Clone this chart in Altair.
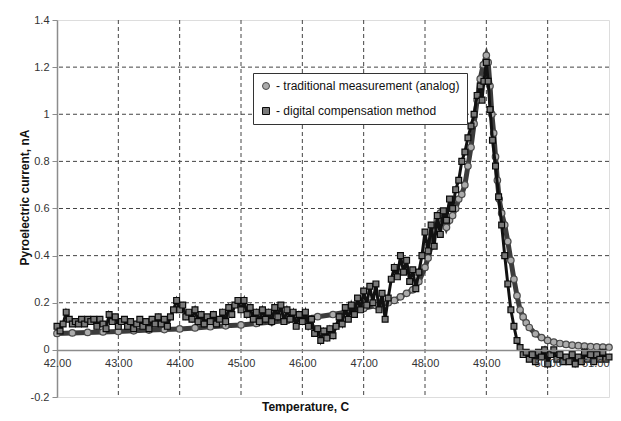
import altair as alt
import pandas as pd

# ---- data ----
series_names = ["- traditional measurement (analog)", "- digital compensation method"]

analog_t = [42.0, 42.25, 42.5, 42.75, 43.0, 43.25, 43.5, 43.75, 44.0, 44.25, 44.5, 44.75,
            45.0, 45.25, 45.5, 45.75, 46.0, 46.25, 46.5, 46.75, 47.0, 47.2, 47.4, 47.5,
            47.6, 47.7, 47.8, 47.9, 48.0, 48.05, 48.1, 48.15, 48.2, 48.25, 48.3, 48.35,
            48.4, 48.45, 48.5, 48.55, 48.6, 48.65, 48.7, 48.75, 48.8, 48.85, 48.9, 48.95,
            49.0, 49.03, 49.06, 49.09, 49.12, 49.15, 49.18, 49.21, 49.25, 49.3, 49.35, 49.4,
            49.45, 49.5, 49.55, 49.6, 49.65, 49.7, 49.8, 49.9, 50.0, 50.1, 50.2, 50.3,
            50.4, 50.5, 50.6, 50.7, 50.8, 50.9, 51.0]
analog_i = [0.070, 0.072, 0.074, 0.076, 0.078, 0.081, 0.084, 0.086, 0.089, 0.093, 0.098, 0.102,
            0.106, 0.112, 0.118, 0.125, 0.133, 0.141, 0.150, 0.162, 0.176, 0.188, 0.200, 0.210,
            0.225, 0.240, 0.255, 0.290, 0.350, 0.39, 0.44, 0.50, 0.55, 0.58, 0.56, 0.52,
            0.55, 0.57, 0.60, 0.64, 0.66, 0.70, 0.78, 0.86, 0.96, 1.06, 1.15, 1.21,
            1.25, 1.22, 1.12, 1.00, 0.92, 0.82, 0.72, 0.64, 0.58, 0.53, 0.46, 0.38,
            0.30, 0.23, 0.17, 0.14, 0.115, 0.095, 0.068, 0.052, 0.040, 0.033, 0.027, 0.023,
            0.020, 0.018, 0.016, 0.014, 0.013, 0.012, 0.011]

digital_t = [42.00, 42.05, 42.10, 42.15, 42.20, 42.25, 42.30, 42.35, 42.40, 42.45, 42.50, 42.55,
             42.60, 42.65, 42.70, 42.75, 42.80, 42.85, 42.90, 42.95, 43.00, 43.05, 43.10, 43.15,
             43.20, 43.25, 43.30, 43.35, 43.40, 43.45, 43.50, 43.55, 43.60, 43.65, 43.70, 43.75,
             43.80, 43.85, 43.90, 43.95, 44.00, 44.05, 44.10, 44.15, 44.20, 44.25, 44.30, 44.35,
             44.40, 44.45, 44.50, 44.55, 44.60, 44.65, 44.70, 44.75, 44.80, 44.85, 44.90, 44.95,
             45.00, 45.05, 45.10, 45.15, 45.20, 45.25, 45.30, 45.35, 45.40, 45.45, 45.50, 45.55,
             45.60, 45.65, 45.70, 45.75, 45.80, 45.85, 45.90, 45.95, 46.00, 46.05, 46.10, 46.15,
             46.20, 46.25, 46.30, 46.35, 46.40, 46.45, 46.50, 46.55, 46.60, 46.65, 46.70, 46.75,
             46.80, 46.85, 46.90, 46.95, 47.00, 47.05, 47.10, 47.15, 47.20, 47.25, 47.30, 47.35,
             47.40, 47.45, 47.50, 47.55, 47.60, 47.65, 47.70, 47.75, 47.80, 47.85, 47.90, 47.95,
             48.00, 48.05, 48.10, 48.15, 48.20, 48.25, 48.30, 48.35, 48.40, 48.45, 48.50, 48.55,
             48.60, 48.65, 48.70, 48.75, 48.80, 48.85, 48.90, 48.93, 48.96, 49.00, 49.03, 49.06,
             49.10, 49.15, 49.20, 49.25, 49.30, 49.35, 49.40, 49.45, 49.50, 49.55, 49.60, 49.65,
             49.70, 49.75, 49.80, 49.85, 49.90, 49.95, 50.00, 50.05, 50.10, 50.15, 50.20, 50.25,
             50.30, 50.35, 50.40, 50.45, 50.50, 50.55, 50.60, 50.65, 50.70, 50.75, 50.80, 50.85,
             50.90, 50.95, 51.00]
digital_i = [0.10, 0.08, 0.11, 0.16, 0.13, 0.11, 0.12, 0.11, 0.13, 0.11, 0.13, 0.12,
             0.13, 0.10, 0.13, 0.11, 0.09, 0.15, 0.12, 0.14, 0.10, 0.12, 0.13, 0.10,
             0.12, 0.09, 0.11, 0.13, 0.10, 0.12, 0.09, 0.13, 0.11, 0.14, 0.11, 0.13,
             0.10, 0.14, 0.17, 0.21, 0.17, 0.19, 0.14, 0.16, 0.13, 0.17, 0.12, 0.15,
             0.11, 0.14, 0.12, 0.15, 0.11, 0.13, 0.16, 0.12, 0.18, 0.15, 0.19, 0.21,
             0.17, 0.21, 0.15, 0.18, 0.13, 0.16, 0.12, 0.17, 0.13, 0.16, 0.12, 0.18,
             0.14, 0.19, 0.12, 0.17, 0.13, 0.16, 0.10, 0.15, 0.12, 0.16, 0.10, 0.13,
             0.07, 0.09, 0.04, 0.08, 0.05, 0.09, 0.06, 0.10, 0.14, 0.11, 0.18, 0.13,
             0.19, 0.15, 0.22, 0.17, 0.25, 0.19, 0.27, 0.20, 0.28, 0.17, 0.24, 0.13,
             0.22, 0.30, 0.35, 0.31, 0.40, 0.33, 0.38, 0.29, 0.34, 0.26, 0.33, 0.40,
             0.50, 0.42, 0.53, 0.44, 0.57, 0.49, 0.59, 0.55, 0.64, 0.60, 0.68, 0.72,
             0.80, 0.84, 0.90, 0.95, 1.00, 1.08, 1.12, 1.06, 1.14, 1.22, 1.14, 1.02,
             0.89, 0.78, 0.65, 0.53, 0.40, 0.28, 0.17, 0.10, 0.04, 0.01, -0.02, -0.01,
             -0.04, -0.02, -0.05, -0.01, -0.03, 0.00, -0.06, -0.02, 0.00, -0.04, -0.02, -0.05,
             -0.03, -0.05, -0.02, -0.06, -0.03, -0.05, -0.01, -0.04, -0.02, -0.05, -0.02, -0.04,
             -0.01, -0.04, -0.03]

x_ticks = [42, 43, 44, 45, 46, 47, 48, 49, 50, 51]
y_ticks = [-0.2, 0, 0.2, 0.4, 0.6, 0.8, 1, 1.2, 1.4]
x_grid = [43, 44, 45, 46, 47, 48, 49, 50]
y_grid = [0.2, 0.4, 0.6, 0.8, 1, 1.2]

analog_df = pd.DataFrame({"t": analog_t, "i": analog_i, "series": series_names[0]})
digital_df = pd.DataFrame({"t": digital_t, "i": digital_i, "series": series_names[1]})

FONT = "Liberation Sans"
W, H = 552, 377

xscale = alt.Scale(domain=[42, 51], nice=False, zero=False)
yscale = alt.Scale(domain=[-0.2, 1.4], nice=False, zero=False)

xaxis = alt.Axis(values=x_ticks, format=".2f", offset=-47.1, domainColor="#8c8c8c",
                 domainWidth=1.5, ticks=False, grid=False, labelFont=FONT, labelFontSize=11,
                 labelColor="#333333", labelPadding=8, labelFlush=False, labelOverlap=False,
                 labelAlign={"condition": {"test": "datum.value == 51", "value": "right"},
                             "value": "center"},
                 zindex=1,
                 titleFont=FONT, titleFontSize=12, titleFontWeight="bold", titleColor="#111111",
                 titleX=248, titleY=61, titleAlign="center", titleBaseline="alphabetic")
yaxis = alt.Axis(values=y_ticks, labelExpr="toString(datum.value)", domainColor="#8c8c8c",
                 domainWidth=1.5, tickColor="#8c8c8c", tickSize=5, grid=False,
                 labelFont=FONT, labelFontSize=11, labelColor="#333333", labelPadding=3,
                 titleFont=FONT, titleFontSize=12, titleFontWeight="bold", titleColor="#111111",
                 titleX=-33, titleY=177, titleBaseline="middle", titleAlign="center")

x_enc = alt.X("t:Q", scale=xscale, axis=xaxis, title="Temperature, C")
y_enc = alt.Y("i:Q", scale=yscale, axis=yaxis, title="Pyroelectric current, nA")

legend = alt.Legend(orient="none", legendX=196, legendY=53, strokeColor="#333333",
                    fillColor="white", padding=7, labelFont=FONT, labelFontSize=12,
                    labelColor="#111111", labelLimit=400, symbolSize=49, symbolStrokeWidth=1,
                    rowPadding=13, labelOffset=4, title=None)

shape_scale = alt.Scale(domain=series_names, range=["circle", "square"])
fill_scale = alt.Scale(domain=series_names, range=["#acacac", "#7a7a7a"])
stroke_scale = alt.Scale(domain=series_names, range=["#4a4a4a", "#0a0a0a"])

vgrid = alt.Chart(pd.DataFrame({"t": x_grid})).mark_rule(
    color="#444444", strokeDash=[4, 3], strokeWidth=1).encode(x=x_enc)
hgrid = alt.Chart(pd.DataFrame({"i": y_grid})).mark_rule(
    color="#444444", strokeDash=[4, 3], strokeWidth=1).encode(y=y_enc)

def series_layers(df, line_color, line_width, size):
    line = alt.Chart(df).mark_line(color=line_color, strokeWidth=line_width).encode(
        x=x_enc, y=y_enc, order="t:Q")
    pts = alt.Chart(df).mark_point(filled=True, strokeWidth=1.2, opacity=1, size=size).encode(
        x=x_enc, y=y_enc,
        shape=alt.Shape("series:N", scale=shape_scale, legend=legend),
        fill=alt.Fill("series:N", scale=fill_scale, legend=legend),
        stroke=alt.Stroke("series:N", scale=stroke_scale, legend=legend),
    )
    return line, pts

a_line, a_pts = series_layers(analog_df, "#3c3c3c", 5, 42)
d_line, d_pts = series_layers(digital_df, "#111111", 3, 34)

chart = alt.layer(vgrid, hgrid, a_line, a_pts, d_line, d_pts).properties(
    width=W, height=H,
    autosize=alt.AutoSizeParams(type="none"),
    padding={"left": 49, "top": 12, "right": 4, "bottom": 16},
).configure_view(stroke=None).configure(background="white")

chart.save("out.html", embed_options={"renderer": "svg", "actions": False})
